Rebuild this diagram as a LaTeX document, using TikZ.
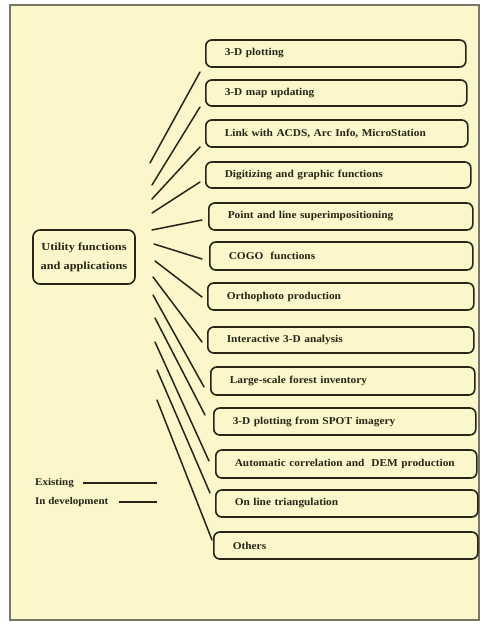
\documentclass[tikz,border=0pt]{standalone}
\usepackage{fontspec}
\setmainfont{Liberation Serif}
\newfontfamily\widefont[FakeStretch=1.08]{Liberation Serif}
\newfontfamily\widerfont[FakeStretch=1.14]{Liberation Serif}
\definecolor{paper}{RGB}{251,247,202}
\definecolor{ink}{RGB}{40,36,22}
\definecolor{frame}{RGB}{120,118,105}
\begin{document}
\begin{tikzpicture}[x=1pt,y=-1pt,
  itembox/.style={draw=ink, line width=1.6pt, rounded corners=6pt, anchor=west,
    minimum height=27pt, inner xsep=19pt, inner ysep=0pt, align=left,
    font=\widefont\fontsize{10.5}{12}\selectfont\bfseries, text=ink},
  hubbox/.style={draw=ink, line width=1.6pt, rounded corners=7pt,
    minimum width=102pt, minimum height=54pt, align=center, inner xsep=2pt,
    font=\widerfont\fontsize{10.8}{19}\selectfont\bfseries, text=ink},
  spoke/.style={draw=ink, line width=1.5pt, line cap=round},
  legtext/.style={anchor=base west, inner sep=0pt, text=ink,
    font=\widefont\fontsize{10.2}{12}\selectfont\bfseries}]
\useasboundingbox (0,0) rectangle (483,626);
\fill[white] (0,0) rectangle (483,626);
\filldraw[fill=paper, draw=frame, line width=1.2pt] (10,5) rectangle (479,620);

% hub
\node[hubbox] (hub) at (84,257) {Utility functions\\and applications};

% item boxes: (left,right,top,bottom)
\foreach \i/\l/\r/\t/\b/\txt in {
  1/205/465/40/67/{3-D plotting},
  2/205/466/80/106/{3-D map updating},
  3/205/467/120/147/{Link with ACDS, Arc Info, MicroStation},
  4/205/470/162/188/{Digitizing and graphic functions},
  5/208/472/203/230/{Point and line superimpositioning},
  6/209/472/242/270/{COGO\ \ functions},
  7/207/473/283/310/{Orthophoto production},
  8/207/473/327/353/{Interactive 3-D analysis},
  9/210/474/367/395/{Large-scale forest inventory},
  10/213/475/408/435/{3-D plotting from SPOT imagery},
  11/215/476/450/478/{Automatic correlation and\ \ DEM production},
  12/215/477/490/517/{On line triangulation},
  13/213/477/532/559/{Others}}{
  \pgfmathsetmacro{\w}{\r-\l-38}
  \pgfmathsetmacro{\h}{\b-\t}
  \node[itembox, text width=\w pt, minimum height=\h pt] (b\i) at (\l,{(\t+\b)/2}) {\txt};
}

% spoke end points
\foreach \i/\sx/\sy/\ex/\ey in {
  1/150/163/200/72,
  2/152/185/200/107,
  3/152/199/200/147,
  4/152/213/200/182,
  5/152/230/202/220,
  6/154/244/202/259,
  7/155/261/202/297,
  8/153/277/202/342,
  9/153/295/204/387,
  10/155/318/205/415,
  11/155/342/209/461,
  12/157/370/210/493,
  13/157/400/212/540}{
  \coordinate (s\i) at (\sx,\sy);
  \coordinate (e\i) at (\ex,\ey);
  \draw[spoke] (s\i) -- (e\i);
}

% legend
\node[legtext] (lex) at (35,485) {Existing};
\node[legtext] (ldev) at (35,504) {In development};
\coordinate (lexa) at (83,483);
\coordinate (lexb) at (157,483);
\coordinate (ldeva) at (119,502);
\coordinate (ldevb) at (157,502);
\draw[ink, line width=1.2pt] (lexa) -- (lexb);
\draw[ink, line width=1.2pt] (ldeva) -- (ldevb);
\end{tikzpicture}
\end{document}
